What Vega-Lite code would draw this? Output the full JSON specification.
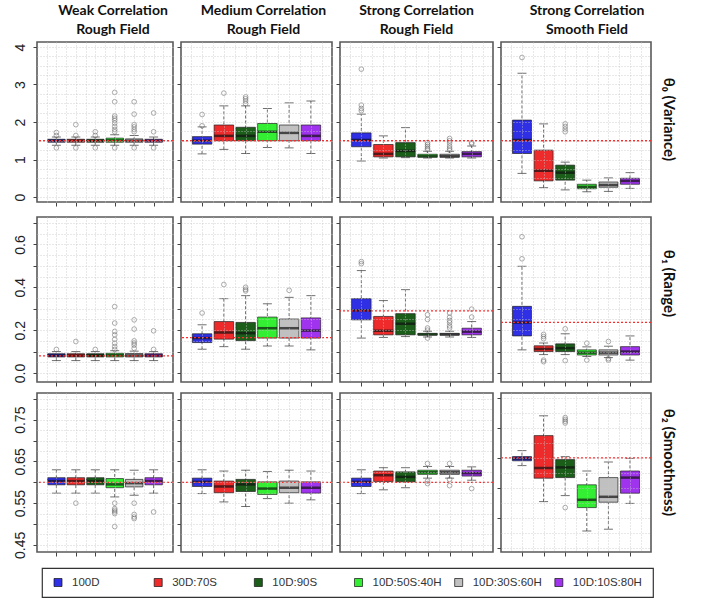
{
"$schema":"https://vega.github.io/schema/vega-lite/v6.json",
"padding":{"left":12,"top":3,"right":5,"bottom":2},
"config":{"font":"Liberation Sans","view":{"stroke":"#5a5a5a","strokeWidth":1.6},
"axis":{"domain":false,"grid":false,"labelOverlap":false,"labelFlush":false,"labelBound":false,"tickColor":"#444","tickSize":4,"tickWidth":1,"labelFont":"Liberation Sans","labelFontSize":14,"labelColor":"#222","gridColor":"#c4c4c4","gridDash":[1,2],"gridWidth":0.8},
"title":{"font":"Lato","fontSize":14,"fontWeight":"bold","color":"#111","lineHeight":19,"offset":5}},
"datasets":{
"groups":[{"k":0,"g":"100D"},{"k":1,"g":"30D:70S"},{"k":2,"g":"10D:90S"},{"k":3,"g":"10D:50S:40H"},{"k":4,"g":"10D:30S:60H"},{"k":5,"g":"10D:10S:80H"}],
"ref":[{"p":"1-1","v":1.5},{"p":"1-2","v":1.5},{"p":"1-3","v":1.5},{"p":"1-4","v":1.5},{"p":"2-1","v":0.08},{"p":"2-2","v":0.165},{"p":"2-3","v":0.29},{"p":"2-4","v":0.236},{"p":"3-1","v":0.6},{"p":"3-2","v":0.6},{"p":"3-3","v":0.6},{"p":"3-4","v":0.6}],
"boxes":[
{"p":"1-1","g":"100D","i":1,"lo":1.38,"q1":1.46,"m":1.5,"q3":1.54,"hi":1.6},
{"p":"1-1","g":"30D:70S","i":2,"lo":1.38,"q1":1.46,"m":1.5,"q3":1.54,"hi":1.6},
{"p":"1-1","g":"10D:90S","i":3,"lo":1.38,"q1":1.46,"m":1.5,"q3":1.54,"hi":1.6},
{"p":"1-1","g":"10D:50S:40H","i":4,"lo":1.38,"q1":1.46,"m":1.51,"q3":1.57,"hi":1.66},
{"p":"1-1","g":"10D:30S:60H","i":5,"lo":1.38,"q1":1.46,"m":1.5,"q3":1.55,"hi":1.64},
{"p":"1-1","g":"10D:10S:80H","i":6,"lo":1.38,"q1":1.46,"m":1.5,"q3":1.54,"hi":1.6},
{"p":"1-2","g":"100D","i":1,"lo":1.15,"q1":1.41,"m":1.5,"q3":1.61,"hi":1.87},
{"p":"1-2","g":"30D:70S","i":2,"lo":1.27,"q1":1.5,"m":1.63,"q3":1.92,"hi":2.43},
{"p":"1-2","g":"10D:90S","i":3,"lo":1.16,"q1":1.5,"m":1.63,"q3":1.86,"hi":2.43},
{"p":"1-2","g":"10D:50S:40H","i":4,"lo":1.32,"q1":1.5,"m":1.74,"q3":1.96,"hi":2.36},
{"p":"1-2","g":"10D:30S:60H","i":5,"lo":1.31,"q1":1.5,"m":1.71,"q3":1.92,"hi":2.51},
{"p":"1-2","g":"10D:10S:80H","i":6,"lo":1.16,"q1":1.5,"m":1.63,"q3":1.92,"hi":2.56},
{"p":"1-3","g":"100D","i":1,"lo":0.96,"q1":1.34,"m":1.52,"q3":1.71,"hi":2.21},
{"p":"1-3","g":"30D:70S","i":2,"lo":1.04,"q1":1.07,"m":1.15,"q3":1.4,"hi":1.63},
{"p":"1-3","g":"10D:90S","i":3,"lo":1.05,"q1":1.07,"m":1.23,"q3":1.45,"hi":1.85},
{"p":"1-3","g":"10D:50S:40H","i":4,"lo":1.04,"q1":1.06,"m":1.09,"q3":1.14,"hi":1.22},
{"p":"1-3","g":"10D:30S:60H","i":5,"lo":1.04,"q1":1.06,"m":1.09,"q3":1.14,"hi":1.22},
{"p":"1-3","g":"10D:10S:80H","i":6,"lo":1.04,"q1":1.07,"m":1.15,"q3":1.21,"hi":1.36},
{"p":"1-4","g":"100D","i":1,"lo":0.63,"q1":1.16,"m":1.52,"q3":2.05,"hi":3.3},
{"p":"1-4","g":"30D:70S","i":2,"lo":0.25,"q1":0.43,"m":0.7,"q3":1.25,"hi":1.95},
{"p":"1-4","g":"10D:90S","i":3,"lo":0.19,"q1":0.45,"m":0.65,"q3":0.85,"hi":0.93},
{"p":"1-4","g":"10D:50S:40H","i":4,"lo":0.14,"q1":0.22,"m":0.27,"q3":0.34,"hi":0.45},
{"p":"1-4","g":"10D:30S:60H","i":5,"lo":0.15,"q1":0.26,"m":0.32,"q3":0.4,"hi":0.51},
{"p":"1-4","g":"10D:10S:80H","i":6,"lo":0.23,"q1":0.34,"m":0.43,"q3":0.5,"hi":0.65},
{"p":"2-1","g":"100D","i":1,"lo":0.058,"q1":0.075,"m":0.082,"q3":0.09,"hi":0.1},
{"p":"2-1","g":"30D:70S","i":2,"lo":0.058,"q1":0.075,"m":0.082,"q3":0.09,"hi":0.1},
{"p":"2-1","g":"10D:90S","i":3,"lo":0.058,"q1":0.075,"m":0.082,"q3":0.09,"hi":0.1},
{"p":"2-1","g":"10D:50S:40H","i":4,"lo":0.058,"q1":0.075,"m":0.083,"q3":0.092,"hi":0.104},
{"p":"2-1","g":"10D:30S:60H","i":5,"lo":0.058,"q1":0.075,"m":0.082,"q3":0.091,"hi":0.102},
{"p":"2-1","g":"10D:10S:80H","i":6,"lo":0.058,"q1":0.075,"m":0.082,"q3":0.09,"hi":0.1},
{"p":"2-2","g":"100D","i":1,"lo":0.111,"q1":0.142,"m":0.163,"q3":0.183,"hi":0.225},
{"p":"2-2","g":"30D:70S","i":2,"lo":0.123,"q1":0.158,"m":0.189,"q3":0.24,"hi":0.347},
{"p":"2-2","g":"10D:90S","i":3,"lo":0.111,"q1":0.151,"m":0.186,"q3":0.236,"hi":0.361},
{"p":"2-2","g":"10D:50S:40H","i":4,"lo":0.126,"q1":0.163,"m":0.209,"q3":0.261,"hi":0.323},
{"p":"2-2","g":"10D:30S:60H","i":5,"lo":0.126,"q1":0.163,"m":0.209,"q3":0.252,"hi":0.353},
{"p":"2-2","g":"10D:10S:80H","i":6,"lo":0.108,"q1":0.163,"m":0.198,"q3":0.257,"hi":0.361},
{"p":"2-3","g":"100D","i":1,"lo":0.163,"q1":0.248,"m":0.292,"q3":0.347,"hi":0.478},
{"p":"2-3","g":"30D:70S","i":2,"lo":0.166,"q1":0.178,"m":0.197,"q3":0.264,"hi":0.338},
{"p":"2-3","g":"10D:90S","i":3,"lo":0.17,"q1":0.178,"m":0.23,"q3":0.277,"hi":0.389},
{"p":"2-3","g":"10D:50S:40H","i":4,"lo":0.168,"q1":0.177,"m":0.18,"q3":0.185,"hi":0.195},
{"p":"2-3","g":"10D:30S:60H","i":5,"lo":0.168,"q1":0.177,"m":0.18,"q3":0.185,"hi":0.195},
{"p":"2-3","g":"10D:10S:80H","i":6,"lo":0.166,"q1":0.178,"m":0.193,"q3":0.209,"hi":0.24},
{"p":"2-4","g":"100D","i":1,"lo":0.108,"q1":0.173,"m":0.236,"q3":0.311,"hi":0.498},
{"p":"2-4","g":"30D:70S","i":2,"lo":0.086,"q1":0.1,"m":0.112,"q3":0.127,"hi":0.14},
{"p":"2-4","g":"10D:90S","i":3,"lo":0.086,"q1":0.1,"m":0.116,"q3":0.136,"hi":0.183},
{"p":"2-4","g":"10D:50S:40H","i":4,"lo":0.077,"q1":0.084,"m":0.095,"q3":0.108,"hi":0.122},
{"p":"2-4","g":"10D:30S:60H","i":5,"lo":0.072,"q1":0.084,"m":0.095,"q3":0.108,"hi":0.125},
{"p":"2-4","g":"10D:10S:80H","i":6,"lo":0.06,"q1":0.084,"m":0.1,"q3":0.123,"hi":0.173},
{"p":"3-1","g":"100D","i":1,"lo":0.574,"q1":0.594,"m":0.603,"q3":0.611,"hi":0.63},
{"p":"3-1","g":"30D:70S","i":2,"lo":0.574,"q1":0.594,"m":0.603,"q3":0.611,"hi":0.63},
{"p":"3-1","g":"10D:90S","i":3,"lo":0.574,"q1":0.594,"m":0.603,"q3":0.611,"hi":0.63},
{"p":"3-1","g":"10D:50S:40H","i":4,"lo":0.565,"q1":0.587,"m":0.595,"q3":0.609,"hi":0.63},
{"p":"3-1","g":"10D:30S:60H","i":5,"lo":0.569,"q1":0.589,"m":0.598,"q3":0.607,"hi":0.629},
{"p":"3-1","g":"10D:10S:80H","i":6,"lo":0.574,"q1":0.594,"m":0.603,"q3":0.611,"hi":0.63},
{"p":"3-2","g":"100D","i":1,"lo":0.573,"q1":0.59,"m":0.601,"q3":0.61,"hi":0.63},
{"p":"3-2","g":"30D:70S","i":2,"lo":0.553,"q1":0.575,"m":0.59,"q3":0.603,"hi":0.627},
{"p":"3-2","g":"10D:90S","i":3,"lo":0.542,"q1":0.578,"m":0.595,"q3":0.607,"hi":0.629},
{"p":"3-2","g":"10D:50S:40H","i":4,"lo":0.561,"q1":0.571,"m":0.585,"q3":0.601,"hi":0.626},
{"p":"3-2","g":"10D:30S:60H","i":5,"lo":0.55,"q1":0.575,"m":0.587,"q3":0.603,"hi":0.629},
{"p":"3-2","g":"10D:10S:80H","i":6,"lo":0.558,"q1":0.574,"m":0.587,"q3":0.601,"hi":0.627},
{"p":"3-3","g":"100D","i":1,"lo":0.573,"q1":0.59,"m":0.601,"q3":0.61,"hi":0.63},
{"p":"3-3","g":"30D:70S","i":2,"lo":0.582,"q1":0.602,"m":0.617,"q3":0.627,"hi":0.635},
{"p":"3-3","g":"10D:90S","i":3,"lo":0.587,"q1":0.601,"m":0.613,"q3":0.625,"hi":0.635},
{"p":"3-3","g":"10D:50S:40H","i":4,"lo":0.61,"q1":0.619,"m":0.624,"q3":0.629,"hi":0.638},
{"p":"3-3","g":"10D:30S:60H","i":5,"lo":0.61,"q1":0.619,"m":0.624,"q3":0.629,"hi":0.638},
{"p":"3-3","g":"10D:10S:80H","i":6,"lo":0.605,"q1":0.615,"m":0.622,"q3":0.629,"hi":0.637},
{"p":"3-4","g":"100D","i":1,"lo":0.587,"q1":0.595,"m":0.599,"q3":0.602,"hi":0.612},
{"p":"3-4","g":"30D:70S","i":2,"lo":0.527,"q1":0.566,"m":0.583,"q3":0.637,"hi":0.67},
{"p":"3-4","g":"10D:90S","i":3,"lo":0.537,"q1":0.567,"m":0.584,"q3":0.597,"hi":0.602},
{"p":"3-4","g":"10D:50S:40H","i":4,"lo":0.478,"q1":0.517,"m":0.53,"q3":0.555,"hi":0.578},
{"p":"3-4","g":"10D:30S:60H","i":5,"lo":0.481,"q1":0.526,"m":0.535,"q3":0.567,"hi":0.593},
{"p":"3-4","g":"10D:10S:80H","i":6,"lo":0.524,"q1":0.541,"m":0.567,"q3":0.578,"hi":0.599}
],
"out":[
{"p":"1-1","i":1,"v":1.72},{"p":"1-1","i":1,"v":1.64},{"p":"1-1","i":1,"v":1.31},
{"p":"1-1","i":2,"v":1.93},{"p":"1-1","i":2,"v":1.64},{"p":"1-1","i":2,"v":1.31},
{"p":"1-1","i":3,"v":1.74},{"p":"1-1","i":3,"v":1.64},{"p":"1-1","i":3,"v":1.31},
{"p":"1-1","i":4,"v":2.79},{"p":"1-1","i":4,"v":2.54},{"p":"1-1","i":4,"v":2.16},{"p":"1-1","i":4,"v":2.1},{"p":"1-1","i":4,"v":2.04},{"p":"1-1","i":4,"v":1.97},{"p":"1-1","i":4,"v":1.88},{"p":"1-1","i":4,"v":1.8},{"p":"1-1","i":4,"v":1.74},{"p":"1-1","i":4,"v":1.31},
{"p":"1-1","i":5,"v":2.54},{"p":"1-1","i":5,"v":2.21},{"p":"1-1","i":5,"v":1.93},{"p":"1-1","i":5,"v":1.87},{"p":"1-1","i":5,"v":1.8},{"p":"1-1","i":5,"v":1.74},{"p":"1-1","i":5,"v":1.31},
{"p":"1-1","i":6,"v":2.24},{"p":"1-1","i":6,"v":1.74},{"p":"1-1","i":6,"v":1.31},
{"p":"1-2","i":1,"v":2.2},{"p":"1-2","i":1,"v":1.9},{"p":"1-2","i":2,"v":2.77},
{"p":"1-2","i":3,"v":2.67},{"p":"1-2","i":3,"v":2.62},{"p":"1-2","i":3,"v":2.56},{"p":"1-2","i":3,"v":2.49},
{"p":"1-3","i":1,"v":3.41},{"p":"1-3","i":1,"v":2.45},{"p":"1-3","i":1,"v":2.36},{"p":"1-3","i":1,"v":2.3},
{"p":"1-3","i":4,"v":1.45},{"p":"1-3","i":4,"v":1.4},{"p":"1-3","i":4,"v":1.35},{"p":"1-3","i":4,"v":1.3},{"p":"1-3","i":4,"v":1.26},
{"p":"1-3","i":5,"v":1.56},{"p":"1-3","i":5,"v":1.5},{"p":"1-3","i":5,"v":1.44},{"p":"1-3","i":5,"v":1.36},{"p":"1-3","i":5,"v":1.3},{"p":"1-3","i":5,"v":1.25},
{"p":"1-3","i":6,"v":1.45},{"p":"1-3","i":6,"v":1.42},
{"p":"1-4","i":1,"v":3.72},{"p":"1-4","i":3,"v":1.95},{"p":"1-4","i":3,"v":1.88},{"p":"1-4","i":3,"v":1.81},{"p":"1-4","i":3,"v":1.74},
{"p":"2-1","i":1,"v":0.11},{"p":"2-1","i":2,"v":0.147},{"p":"2-1","i":3,"v":0.11},
{"p":"2-1","i":4,"v":0.31},{"p":"2-1","i":4,"v":0.233},{"p":"2-1","i":4,"v":0.194},{"p":"2-1","i":4,"v":0.178},{"p":"2-1","i":4,"v":0.157},{"p":"2-1","i":4,"v":0.139},{"p":"2-1","i":4,"v":0.123},{"p":"2-1","i":4,"v":0.11},
{"p":"2-1","i":5,"v":0.248},{"p":"2-1","i":5,"v":0.205},{"p":"2-1","i":5,"v":0.15},{"p":"2-1","i":5,"v":0.14},{"p":"2-1","i":5,"v":0.13},{"p":"2-1","i":5,"v":0.115},
{"p":"2-1","i":6,"v":0.197},{"p":"2-1","i":6,"v":0.11},
{"p":"2-2","i":1,"v":0.28},{"p":"2-2","i":2,"v":0.413},{"p":"2-2","i":3,"v":0.4},{"p":"2-2","i":3,"v":0.39},{"p":"2-2","i":3,"v":0.383},{"p":"2-2","i":5,"v":0.386},
{"p":"2-3","i":1,"v":0.52},{"p":"2-3","i":1,"v":0.51},
{"p":"2-3","i":4,"v":0.272},{"p":"2-3","i":4,"v":0.25},{"p":"2-3","i":4,"v":0.21},{"p":"2-3","i":4,"v":0.2},{"p":"2-3","i":4,"v":0.163},
{"p":"2-3","i":5,"v":0.28},{"p":"2-3","i":5,"v":0.26},{"p":"2-3","i":5,"v":0.245},{"p":"2-3","i":5,"v":0.235},{"p":"2-3","i":5,"v":0.22},{"p":"2-3","i":5,"v":0.21},
{"p":"2-3","i":6,"v":0.298},{"p":"2-3","i":6,"v":0.261},
{"p":"2-4","i":1,"v":0.636},{"p":"2-4","i":1,"v":0.533},
{"p":"2-4","i":2,"v":0.18},{"p":"2-4","i":2,"v":0.17},{"p":"2-4","i":2,"v":0.16},{"p":"2-4","i":2,"v":0.06},{"p":"2-4","i":2,"v":0.053},
{"p":"2-4","i":3,"v":0.206},{"p":"2-4","i":3,"v":0.058},
{"p":"2-4","i":4,"v":0.139},{"p":"2-4","i":4,"v":0.06},
{"p":"2-4","i":5,"v":0.147},{"p":"2-4","i":5,"v":0.067},{"p":"2-4","i":5,"v":0.06},
{"p":"3-1","i":2,"v":0.55},
{"p":"3-1","i":4,"v":0.55},{"p":"3-1","i":4,"v":0.537},{"p":"3-1","i":4,"v":0.533},{"p":"3-1","i":4,"v":0.529},{"p":"3-1","i":4,"v":0.525},{"p":"3-1","i":4,"v":0.494},
{"p":"3-1","i":5,"v":0.55},{"p":"3-1","i":5,"v":0.523},{"p":"3-1","i":5,"v":0.517},{"p":"3-1","i":5,"v":0.513},
{"p":"3-1","i":6,"v":0.529},
{"p":"3-3","i":4,"v":0.645},{"p":"3-3","i":4,"v":0.603},{"p":"3-3","i":4,"v":0.597},
{"p":"3-3","i":5,"v":0.645},{"p":"3-3","i":5,"v":0.607},{"p":"3-3","i":5,"v":0.592},
{"p":"3-3","i":6,"v":0.585},
{"p":"3-4","i":3,"v":0.667},{"p":"3-4","i":3,"v":0.664},{"p":"3-4","i":3,"v":0.661},{"p":"3-4","i":3,"v":0.658},{"p":"3-4","i":3,"v":0.517}
]
},
"bounds":"full",
"spacing":8,
"vconcat":[
{"hconcat":[
{"width":136,"height":160,"title":{"text":["Weak Correlation","Rough Field"],"dx":8},
"layer":[
{"data":{"name":"boxes"},"transform":[{"filter":"datum.p=='1-1'"}],"mark":{"type":"rule","stroke":"#555","strokeDash":[3,2],"strokeWidth":0.9},
"encoding":{"x":{"field":"i","type":"quantitative","scale":{"domain":[0.26,6.74],"nice":false,"zero":false},"axis":{"orient":"bottom","values":[0.5,1,1.5,2,2.5,3,3.5,4,4.5,5,5.5,6,6.5],"grid":true,"ticks":false,"labels":false,"zindex":1,"title":null}},
"y":{"field":"lo","type":"quantitative","scale":{"domain":[-0.133,4.133],"nice":false,"zero":false},"axis":{"orient":"left","values":[0,0.25,0.5,0.75,1,1.25,1.5,1.75,2,2.25,2.5,2.75,3,3.25,3.5,3.75,4],"grid":true,"ticks":false,"labels":false,"zindex":1,"title":null}},"y2":{"field":"hi"}}},
{"data":{"name":"boxes"},"transform":[{"filter":"datum.p=='1-1'"}],"mark":{"type":"bar","size":17.5,"stroke":"#222","strokeWidth":0.7},
"encoding":{"x":{"field":"i","type":"quantitative","axis":{"orient":"bottom","values":[1,2,3,4,5,6],"labels":false,"title":null}},
"y":{"field":"q1","type":"quantitative","axis":{"orient":"left","values":[0,1,2,3,4],"format":"d","labelAngle":-90,"labelAlign":"center","labelBaseline":"bottom","labelPadding":6,"title":null}},"y2":{"field":"q3"},
"color":{"field":"g","type":"nominal","scale":{"domain":["100D","30D:70S","10D:90S","10D:50S:40H","10D:30S:60H","10D:10S:80H"],"range":["#2f2fe6","#ee2a2a","#1a5e1a","#33ee33","#c0c0c0","#a033ee"]},"legend":null}}},
{"data":{"name":"boxes"},"transform":[{"filter":"datum.p=='1-1'"}],"mark":{"type":"tick","orient":"horizontal","size":9,"thickness":1,"color":"#333"},"encoding":{"x":{"field":"i","type":"quantitative","axis":null},"y":{"field":"lo","type":"quantitative","axis":null}}},
{"data":{"name":"boxes"},"transform":[{"filter":"datum.p=='1-1'"}],"mark":{"type":"tick","orient":"horizontal","size":9,"thickness":1,"color":"#333"},"encoding":{"x":{"field":"i","type":"quantitative","axis":null},"y":{"field":"hi","type":"quantitative","axis":null}}},
{"data":{"name":"boxes"},"transform":[{"filter":"datum.p=='1-1'"}],"mark":{"type":"tick","orient":"horizontal","size":17.5,"thickness":2.5,"color":"#111"},"encoding":{"x":{"field":"i","type":"quantitative","axis":null},"y":{"field":"m","type":"quantitative","axis":null}}},
{"data":{"name":"out"},"transform":[{"filter":"datum.p=='1-1'"}],"mark":{"type":"point","shape":"circle","filled":false,"size":22,"stroke":"#666","strokeWidth":0.8},"encoding":{"x":{"field":"i","type":"quantitative","axis":null},"y":{"field":"v","type":"quantitative","axis":null}}},
{"data":{"name":"ref"},"transform":[{"filter":"datum.p=='1-1'"}],"mark":{"type":"rule","stroke":"#ff2a2a","strokeDash":[2,2],"strokeWidth":1.3},"encoding":{"y":{"field":"v","type":"quantitative","axis":null}}}
],"resolve":{"axis":{"x":"independent","y":"independent"}}},
{"width":151,"height":160,"title":{"text":["Medium Correlation","Rough Field"],"dx":7},
"layer":[
{"data":{"name":"boxes"},"transform":[{"filter":"datum.p=='1-2'"}],"mark":{"type":"rule","stroke":"#555","strokeDash":[3,2],"strokeWidth":0.9},
"encoding":{"x":{"field":"i","type":"quantitative","scale":{"domain":[0.26,6.74],"nice":false,"zero":false},"axis":{"orient":"bottom","values":[0.5,1,1.5,2,2.5,3,3.5,4,4.5,5,5.5,6,6.5],"grid":true,"ticks":false,"labels":false,"zindex":1,"title":null}},
"y":{"field":"lo","type":"quantitative","scale":{"domain":[-0.133,4.133],"nice":false,"zero":false},"axis":{"orient":"left","values":[0,0.25,0.5,0.75,1,1.25,1.5,1.75,2,2.25,2.5,2.75,3,3.25,3.5,3.75,4],"grid":true,"ticks":false,"labels":false,"zindex":1,"title":null}},"y2":{"field":"hi"}}},
{"data":{"name":"boxes"},"transform":[{"filter":"datum.p=='1-2'"}],"mark":{"type":"bar","size":19.5,"stroke":"#222","strokeWidth":0.7},
"encoding":{"x":{"field":"i","type":"quantitative","axis":{"orient":"bottom","values":[1,2,3,4,5,6],"labels":false,"title":null}},
"y":{"field":"q1","type":"quantitative","axis":{"orient":"left","values":[0,1,2,3,4],"labels":false,"title":null}},"y2":{"field":"q3"},
"color":{"field":"g","type":"nominal","scale":{"domain":["100D","30D:70S","10D:90S","10D:50S:40H","10D:30S:60H","10D:10S:80H"],"range":["#2f2fe6","#ee2a2a","#1a5e1a","#33ee33","#c0c0c0","#a033ee"]},"legend":null}}},
{"data":{"name":"boxes"},"transform":[{"filter":"datum.p=='1-2'"}],"mark":{"type":"tick","orient":"horizontal","size":9,"thickness":1,"color":"#333"},"encoding":{"x":{"field":"i","type":"quantitative","axis":null},"y":{"field":"lo","type":"quantitative","axis":null}}},
{"data":{"name":"boxes"},"transform":[{"filter":"datum.p=='1-2'"}],"mark":{"type":"tick","orient":"horizontal","size":9,"thickness":1,"color":"#333"},"encoding":{"x":{"field":"i","type":"quantitative","axis":null},"y":{"field":"hi","type":"quantitative","axis":null}}},
{"data":{"name":"boxes"},"transform":[{"filter":"datum.p=='1-2'"}],"mark":{"type":"tick","orient":"horizontal","size":19.5,"thickness":2.5,"color":"#111"},"encoding":{"x":{"field":"i","type":"quantitative","axis":null},"y":{"field":"m","type":"quantitative","axis":null}}},
{"data":{"name":"out"},"transform":[{"filter":"datum.p=='1-2'"}],"mark":{"type":"point","shape":"circle","filled":false,"size":22,"stroke":"#666","strokeWidth":0.8},"encoding":{"x":{"field":"i","type":"quantitative","axis":null},"y":{"field":"v","type":"quantitative","axis":null}}},
{"data":{"name":"ref"},"transform":[{"filter":"datum.p=='1-2'"}],"mark":{"type":"rule","stroke":"#ff2a2a","strokeDash":[2,2],"strokeWidth":1.3},"encoding":{"y":{"field":"v","type":"quantitative","axis":null}}}
],"resolve":{"axis":{"x":"independent","y":"independent"}}},
{"width":153,"height":160,"title":{"text":["Strong Correlation","Rough Field"],"dx":0},
"layer":[
{"data":{"name":"boxes"},"transform":[{"filter":"datum.p=='1-3'"}],"mark":{"type":"rule","stroke":"#555","strokeDash":[3,2],"strokeWidth":0.9},
"encoding":{"x":{"field":"i","type":"quantitative","scale":{"domain":[0.26,6.74],"nice":false,"zero":false},"axis":{"orient":"bottom","values":[0.5,1,1.5,2,2.5,3,3.5,4,4.5,5,5.5,6,6.5],"grid":true,"ticks":false,"labels":false,"zindex":1,"title":null}},
"y":{"field":"lo","type":"quantitative","scale":{"domain":[-0.133,4.133],"nice":false,"zero":false},"axis":{"orient":"left","values":[0,0.25,0.5,0.75,1,1.25,1.5,1.75,2,2.25,2.5,2.75,3,3.25,3.5,3.75,4],"grid":true,"ticks":false,"labels":false,"zindex":1,"title":null}},"y2":{"field":"hi"}}},
{"data":{"name":"boxes"},"transform":[{"filter":"datum.p=='1-3'"}],"mark":{"type":"bar","size":19.5,"stroke":"#222","strokeWidth":0.7},
"encoding":{"x":{"field":"i","type":"quantitative","axis":{"orient":"bottom","values":[1,2,3,4,5,6],"labels":false,"title":null}},
"y":{"field":"q1","type":"quantitative","axis":{"orient":"left","values":[0,1,2,3,4],"labels":false,"title":null}},"y2":{"field":"q3"},
"color":{"field":"g","type":"nominal","scale":{"domain":["100D","30D:70S","10D:90S","10D:50S:40H","10D:30S:60H","10D:10S:80H"],"range":["#2f2fe6","#ee2a2a","#1a5e1a","#33ee33","#c0c0c0","#a033ee"]},"legend":null}}},
{"data":{"name":"boxes"},"transform":[{"filter":"datum.p=='1-3'"}],"mark":{"type":"tick","orient":"horizontal","size":9,"thickness":1,"color":"#333"},"encoding":{"x":{"field":"i","type":"quantitative","axis":null},"y":{"field":"lo","type":"quantitative","axis":null}}},
{"data":{"name":"boxes"},"transform":[{"filter":"datum.p=='1-3'"}],"mark":{"type":"tick","orient":"horizontal","size":9,"thickness":1,"color":"#333"},"encoding":{"x":{"field":"i","type":"quantitative","axis":null},"y":{"field":"hi","type":"quantitative","axis":null}}},
{"data":{"name":"boxes"},"transform":[{"filter":"datum.p=='1-3'"}],"mark":{"type":"tick","orient":"horizontal","size":19.5,"thickness":2.5,"color":"#111"},"encoding":{"x":{"field":"i","type":"quantitative","axis":null},"y":{"field":"m","type":"quantitative","axis":null}}},
{"data":{"name":"out"},"transform":[{"filter":"datum.p=='1-3'"}],"mark":{"type":"point","shape":"circle","filled":false,"size":22,"stroke":"#666","strokeWidth":0.8},"encoding":{"x":{"field":"i","type":"quantitative","axis":null},"y":{"field":"v","type":"quantitative","axis":null}}},
{"data":{"name":"ref"},"transform":[{"filter":"datum.p=='1-3'"}],"mark":{"type":"rule","stroke":"#ff2a2a","strokeDash":[2,2],"strokeWidth":1.3},"encoding":{"y":{"field":"v","type":"quantitative","axis":null}}}
],"resolve":{"axis":{"x":"independent","y":"independent"}}},
{"width":150,"height":160,"title":{"text":["Strong Correlation","Smooth Field"],"dx":11},
"layer":[
{"data":{"name":"boxes"},"transform":[{"filter":"datum.p=='1-4'"}],"mark":{"type":"rule","stroke":"#555","strokeDash":[3,2],"strokeWidth":0.9},
"encoding":{"x":{"field":"i","type":"quantitative","scale":{"domain":[0.26,6.74],"nice":false,"zero":false},"axis":{"orient":"bottom","values":[0.5,1,1.5,2,2.5,3,3.5,4,4.5,5,5.5,6,6.5],"grid":true,"ticks":false,"labels":false,"zindex":1,"title":null}},
"y":{"field":"lo","type":"quantitative","scale":{"domain":[-0.133,4.133],"nice":false,"zero":false},"axis":{"orient":"left","values":[0,0.25,0.5,0.75,1,1.25,1.5,1.75,2,2.25,2.5,2.75,3,3.25,3.5,3.75,4],"grid":true,"ticks":false,"labels":false,"zindex":1,"title":null}},"y2":{"field":"hi"}}},
{"data":{"name":"boxes"},"transform":[{"filter":"datum.p=='1-4'"}],"mark":{"type":"bar","size":19,"stroke":"#222","strokeWidth":0.7},
"encoding":{"x":{"field":"i","type":"quantitative","axis":{"orient":"bottom","values":[1,2,3,4,5,6],"labels":false,"title":null}},
"y":{"field":"q1","type":"quantitative","axis":{"orient":"left","values":[0,1,2,3,4],"labels":false,"title":null}},"y2":{"field":"q3"},
"color":{"field":"g","type":"nominal","scale":{"domain":["100D","30D:70S","10D:90S","10D:50S:40H","10D:30S:60H","10D:10S:80H"],"range":["#2f2fe6","#ee2a2a","#1a5e1a","#33ee33","#c0c0c0","#a033ee"]},"legend":null}}},
{"data":{"name":"boxes"},"transform":[{"filter":"datum.p=='1-4'"}],"mark":{"type":"tick","orient":"horizontal","size":9,"thickness":1,"color":"#333"},"encoding":{"x":{"field":"i","type":"quantitative","axis":null},"y":{"field":"lo","type":"quantitative","axis":null}}},
{"data":{"name":"boxes"},"transform":[{"filter":"datum.p=='1-4'"}],"mark":{"type":"tick","orient":"horizontal","size":9,"thickness":1,"color":"#333"},"encoding":{"x":{"field":"i","type":"quantitative","axis":null},"y":{"field":"hi","type":"quantitative","axis":null}}},
{"data":{"name":"boxes"},"transform":[{"filter":"datum.p=='1-4'"}],"mark":{"type":"tick","orient":"horizontal","size":19,"thickness":2.5,"color":"#111"},"encoding":{"x":{"field":"i","type":"quantitative","axis":null},"y":{"field":"m","type":"quantitative","axis":null}}},
{"data":{"name":"out"},"transform":[{"filter":"datum.p=='1-4'"}],"mark":{"type":"point","shape":"circle","filled":false,"size":22,"stroke":"#666","strokeWidth":0.8},"encoding":{"x":{"field":"i","type":"quantitative","axis":null},"y":{"field":"v","type":"quantitative","axis":null}}},
{"data":{"name":"ref"},"transform":[{"filter":"datum.p=='1-4'"}],"mark":{"type":"rule","stroke":"#ff2a2a","strokeDash":[2,2],"strokeWidth":1.3},"encoding":{"y":{"field":"v","type":"quantitative","axis":{"orient":"right","ticks":false,"labels":false,"grid":false,"title":"θ₀ (Variance)","titleAngle":90,"titleFont":"Lato","titleFontSize":15,"titleFontWeight":"bold","titleColor":"#111","titleX":17,"titleY":77,"titleAlign":"center","titleBaseline":"middle"}}}}
],"resolve":{"axis":{"x":"independent","y":"independent"}}}
],"spacing":8,"bounds":"flush"},
{"vconcat":[
{"hconcat":[
{"width":136,"height":165,
"layer":[
{"data":{"name":"boxes"},"transform":[{"filter":"datum.p=='2-1'"}],"mark":{"type":"rule","stroke":"#555","strokeDash":[3,2],"strokeWidth":0.9},
"encoding":{"x":{"field":"i","type":"quantitative","scale":{"domain":[0.26,6.74],"nice":false,"zero":false},"axis":{"orient":"bottom","values":[0.5,1,1.5,2,2.5,3,3.5,4,4.5,5,5.5,6,6.5],"grid":true,"ticks":false,"labels":false,"zindex":1,"title":null}},
"y":{"field":"lo","type":"quantitative","scale":{"domain":[-0.042,0.728],"nice":false,"zero":false},"axis":{"orient":"left","values":[0,0.05,0.1,0.15,0.2,0.25,0.3,0.35,0.4,0.45,0.5,0.55,0.6,0.65,0.7],"grid":true,"ticks":false,"labels":false,"zindex":1,"title":null}},"y2":{"field":"hi"}}},
{"data":{"name":"boxes"},"transform":[{"filter":"datum.p=='2-1'"}],"mark":{"type":"bar","size":17.5,"stroke":"#222","strokeWidth":0.7},
"encoding":{"x":{"field":"i","type":"quantitative","axis":{"orient":"bottom","values":[1,2,3,4,5,6],"labels":false,"title":null}},
"y":{"field":"q1","type":"quantitative","axis":{"orient":"left","values":[0,0.1,0.2,0.3,0.4,0.5,0.6,0.7],"labelExpr":"round(datum.value*10)%2==0 ? format(datum.value,'.1f') : ''","labelAngle":-90,"labelAlign":"center","labelBaseline":"bottom","labelPadding":6,"title":null}},"y2":{"field":"q3"},
"color":{"field":"g","type":"nominal","scale":{"domain":["100D","30D:70S","10D:90S","10D:50S:40H","10D:30S:60H","10D:10S:80H"],"range":["#2f2fe6","#ee2a2a","#1a5e1a","#33ee33","#c0c0c0","#a033ee"]},"legend":null}}},
{"data":{"name":"boxes"},"transform":[{"filter":"datum.p=='2-1'"}],"mark":{"type":"tick","orient":"horizontal","size":9,"thickness":1,"color":"#333"},"encoding":{"x":{"field":"i","type":"quantitative","axis":null},"y":{"field":"lo","type":"quantitative","axis":null}}},
{"data":{"name":"boxes"},"transform":[{"filter":"datum.p=='2-1'"}],"mark":{"type":"tick","orient":"horizontal","size":9,"thickness":1,"color":"#333"},"encoding":{"x":{"field":"i","type":"quantitative","axis":null},"y":{"field":"hi","type":"quantitative","axis":null}}},
{"data":{"name":"boxes"},"transform":[{"filter":"datum.p=='2-1'"}],"mark":{"type":"tick","orient":"horizontal","size":17.5,"thickness":2.5,"color":"#111"},"encoding":{"x":{"field":"i","type":"quantitative","axis":null},"y":{"field":"m","type":"quantitative","axis":null}}},
{"data":{"name":"out"},"transform":[{"filter":"datum.p=='2-1'"}],"mark":{"type":"point","shape":"circle","filled":false,"size":22,"stroke":"#666","strokeWidth":0.8},"encoding":{"x":{"field":"i","type":"quantitative","axis":null},"y":{"field":"v","type":"quantitative","axis":null}}},
{"data":{"name":"ref"},"transform":[{"filter":"datum.p=='2-1'"}],"mark":{"type":"rule","stroke":"#ff2a2a","strokeDash":[2,2],"strokeWidth":1.3},"encoding":{"y":{"field":"v","type":"quantitative","axis":null}}}
],"resolve":{"axis":{"x":"independent","y":"independent"}}},
{"width":151,"height":165,
"layer":[
{"data":{"name":"boxes"},"transform":[{"filter":"datum.p=='2-2'"}],"mark":{"type":"rule","stroke":"#555","strokeDash":[3,2],"strokeWidth":0.9},
"encoding":{"x":{"field":"i","type":"quantitative","scale":{"domain":[0.26,6.74],"nice":false,"zero":false},"axis":{"orient":"bottom","values":[0.5,1,1.5,2,2.5,3,3.5,4,4.5,5,5.5,6,6.5],"grid":true,"ticks":false,"labels":false,"zindex":1,"title":null}},
"y":{"field":"lo","type":"quantitative","scale":{"domain":[-0.042,0.728],"nice":false,"zero":false},"axis":{"orient":"left","values":[0,0.05,0.1,0.15,0.2,0.25,0.3,0.35,0.4,0.45,0.5,0.55,0.6,0.65,0.7],"grid":true,"ticks":false,"labels":false,"zindex":1,"title":null}},"y2":{"field":"hi"}}},
{"data":{"name":"boxes"},"transform":[{"filter":"datum.p=='2-2'"}],"mark":{"type":"bar","size":19.5,"stroke":"#222","strokeWidth":0.7},
"encoding":{"x":{"field":"i","type":"quantitative","axis":{"orient":"bottom","values":[1,2,3,4,5,6],"labels":false,"title":null}},
"y":{"field":"q1","type":"quantitative","axis":{"orient":"left","values":[0,0.1,0.2,0.3,0.4,0.5,0.6,0.7],"labels":false,"title":null}},"y2":{"field":"q3"},
"color":{"field":"g","type":"nominal","scale":{"domain":["100D","30D:70S","10D:90S","10D:50S:40H","10D:30S:60H","10D:10S:80H"],"range":["#2f2fe6","#ee2a2a","#1a5e1a","#33ee33","#c0c0c0","#a033ee"]},"legend":null}}},
{"data":{"name":"boxes"},"transform":[{"filter":"datum.p=='2-2'"}],"mark":{"type":"tick","orient":"horizontal","size":9,"thickness":1,"color":"#333"},"encoding":{"x":{"field":"i","type":"quantitative","axis":null},"y":{"field":"lo","type":"quantitative","axis":null}}},
{"data":{"name":"boxes"},"transform":[{"filter":"datum.p=='2-2'"}],"mark":{"type":"tick","orient":"horizontal","size":9,"thickness":1,"color":"#333"},"encoding":{"x":{"field":"i","type":"quantitative","axis":null},"y":{"field":"hi","type":"quantitative","axis":null}}},
{"data":{"name":"boxes"},"transform":[{"filter":"datum.p=='2-2'"}],"mark":{"type":"tick","orient":"horizontal","size":19.5,"thickness":2.5,"color":"#111"},"encoding":{"x":{"field":"i","type":"quantitative","axis":null},"y":{"field":"m","type":"quantitative","axis":null}}},
{"data":{"name":"out"},"transform":[{"filter":"datum.p=='2-2'"}],"mark":{"type":"point","shape":"circle","filled":false,"size":22,"stroke":"#666","strokeWidth":0.8},"encoding":{"x":{"field":"i","type":"quantitative","axis":null},"y":{"field":"v","type":"quantitative","axis":null}}},
{"data":{"name":"ref"},"transform":[{"filter":"datum.p=='2-2'"}],"mark":{"type":"rule","stroke":"#ff2a2a","strokeDash":[2,2],"strokeWidth":1.3},"encoding":{"y":{"field":"v","type":"quantitative","axis":null}}}
],"resolve":{"axis":{"x":"independent","y":"independent"}}},
{"width":153,"height":165,
"layer":[
{"data":{"name":"boxes"},"transform":[{"filter":"datum.p=='2-3'"}],"mark":{"type":"rule","stroke":"#555","strokeDash":[3,2],"strokeWidth":0.9},
"encoding":{"x":{"field":"i","type":"quantitative","scale":{"domain":[0.26,6.74],"nice":false,"zero":false},"axis":{"orient":"bottom","values":[0.5,1,1.5,2,2.5,3,3.5,4,4.5,5,5.5,6,6.5],"grid":true,"ticks":false,"labels":false,"zindex":1,"title":null}},
"y":{"field":"lo","type":"quantitative","scale":{"domain":[-0.042,0.728],"nice":false,"zero":false},"axis":{"orient":"left","values":[0,0.05,0.1,0.15,0.2,0.25,0.3,0.35,0.4,0.45,0.5,0.55,0.6,0.65,0.7],"grid":true,"ticks":false,"labels":false,"zindex":1,"title":null}},"y2":{"field":"hi"}}},
{"data":{"name":"boxes"},"transform":[{"filter":"datum.p=='2-3'"}],"mark":{"type":"bar","size":19.5,"stroke":"#222","strokeWidth":0.7},
"encoding":{"x":{"field":"i","type":"quantitative","axis":{"orient":"bottom","values":[1,2,3,4,5,6],"labels":false,"title":null}},
"y":{"field":"q1","type":"quantitative","axis":{"orient":"left","values":[0,0.1,0.2,0.3,0.4,0.5,0.6,0.7],"labels":false,"title":null}},"y2":{"field":"q3"},
"color":{"field":"g","type":"nominal","scale":{"domain":["100D","30D:70S","10D:90S","10D:50S:40H","10D:30S:60H","10D:10S:80H"],"range":["#2f2fe6","#ee2a2a","#1a5e1a","#33ee33","#c0c0c0","#a033ee"]},"legend":null}}},
{"data":{"name":"boxes"},"transform":[{"filter":"datum.p=='2-3'"}],"mark":{"type":"tick","orient":"horizontal","size":9,"thickness":1,"color":"#333"},"encoding":{"x":{"field":"i","type":"quantitative","axis":null},"y":{"field":"lo","type":"quantitative","axis":null}}},
{"data":{"name":"boxes"},"transform":[{"filter":"datum.p=='2-3'"}],"mark":{"type":"tick","orient":"horizontal","size":9,"thickness":1,"color":"#333"},"encoding":{"x":{"field":"i","type":"quantitative","axis":null},"y":{"field":"hi","type":"quantitative","axis":null}}},
{"data":{"name":"boxes"},"transform":[{"filter":"datum.p=='2-3'"}],"mark":{"type":"tick","orient":"horizontal","size":19.5,"thickness":2.5,"color":"#111"},"encoding":{"x":{"field":"i","type":"quantitative","axis":null},"y":{"field":"m","type":"quantitative","axis":null}}},
{"data":{"name":"out"},"transform":[{"filter":"datum.p=='2-3'"}],"mark":{"type":"point","shape":"circle","filled":false,"size":22,"stroke":"#666","strokeWidth":0.8},"encoding":{"x":{"field":"i","type":"quantitative","axis":null},"y":{"field":"v","type":"quantitative","axis":null}}},
{"data":{"name":"ref"},"transform":[{"filter":"datum.p=='2-3'"}],"mark":{"type":"rule","stroke":"#ff2a2a","strokeDash":[2,2],"strokeWidth":1.3},"encoding":{"y":{"field":"v","type":"quantitative","axis":null}}}
],"resolve":{"axis":{"x":"independent","y":"independent"}}},
{"width":150,"height":165,
"layer":[
{"data":{"name":"boxes"},"transform":[{"filter":"datum.p=='2-4'"}],"mark":{"type":"rule","stroke":"#555","strokeDash":[3,2],"strokeWidth":0.9},
"encoding":{"x":{"field":"i","type":"quantitative","scale":{"domain":[0.26,6.74],"nice":false,"zero":false},"axis":{"orient":"bottom","values":[0.5,1,1.5,2,2.5,3,3.5,4,4.5,5,5.5,6,6.5],"grid":true,"ticks":false,"labels":false,"zindex":1,"title":null}},
"y":{"field":"lo","type":"quantitative","scale":{"domain":[-0.042,0.728],"nice":false,"zero":false},"axis":{"orient":"left","values":[0,0.05,0.1,0.15,0.2,0.25,0.3,0.35,0.4,0.45,0.5,0.55,0.6,0.65,0.7],"grid":true,"ticks":false,"labels":false,"zindex":1,"title":null}},"y2":{"field":"hi"}}},
{"data":{"name":"boxes"},"transform":[{"filter":"datum.p=='2-4'"}],"mark":{"type":"bar","size":19,"stroke":"#222","strokeWidth":0.7},
"encoding":{"x":{"field":"i","type":"quantitative","axis":{"orient":"bottom","values":[1,2,3,4,5,6],"labels":false,"title":null}},
"y":{"field":"q1","type":"quantitative","axis":{"orient":"left","values":[0,0.1,0.2,0.3,0.4,0.5,0.6,0.7],"labels":false,"title":null}},"y2":{"field":"q3"},
"color":{"field":"g","type":"nominal","scale":{"domain":["100D","30D:70S","10D:90S","10D:50S:40H","10D:30S:60H","10D:10S:80H"],"range":["#2f2fe6","#ee2a2a","#1a5e1a","#33ee33","#c0c0c0","#a033ee"]},"legend":null}}},
{"data":{"name":"boxes"},"transform":[{"filter":"datum.p=='2-4'"}],"mark":{"type":"tick","orient":"horizontal","size":9,"thickness":1,"color":"#333"},"encoding":{"x":{"field":"i","type":"quantitative","axis":null},"y":{"field":"lo","type":"quantitative","axis":null}}},
{"data":{"name":"boxes"},"transform":[{"filter":"datum.p=='2-4'"}],"mark":{"type":"tick","orient":"horizontal","size":9,"thickness":1,"color":"#333"},"encoding":{"x":{"field":"i","type":"quantitative","axis":null},"y":{"field":"hi","type":"quantitative","axis":null}}},
{"data":{"name":"boxes"},"transform":[{"filter":"datum.p=='2-4'"}],"mark":{"type":"tick","orient":"horizontal","size":19,"thickness":2.5,"color":"#111"},"encoding":{"x":{"field":"i","type":"quantitative","axis":null},"y":{"field":"m","type":"quantitative","axis":null}}},
{"data":{"name":"out"},"transform":[{"filter":"datum.p=='2-4'"}],"mark":{"type":"point","shape":"circle","filled":false,"size":22,"stroke":"#666","strokeWidth":0.8},"encoding":{"x":{"field":"i","type":"quantitative","axis":null},"y":{"field":"v","type":"quantitative","axis":null}}},
{"data":{"name":"ref"},"transform":[{"filter":"datum.p=='2-4'"}],"mark":{"type":"rule","stroke":"#ff2a2a","strokeDash":[2,2],"strokeWidth":1.3},"encoding":{"y":{"field":"v","type":"quantitative","axis":{"orient":"right","ticks":false,"labels":false,"grid":false,"title":"θ₁ (Range)","titleAngle":90,"titleFont":"Lato","titleFontSize":15,"titleFontWeight":"bold","titleColor":"#111","titleX":17,"titleY":66,"titleAlign":"center","titleBaseline":"middle"}}}}
],"resolve":{"axis":{"x":"independent","y":"independent"}}}
],"spacing":8,"bounds":"flush"},
{"vconcat":[
{"hconcat":[
{"width":136,"height":159,
"layer":[
{"data":{"name":"boxes"},"transform":[{"filter":"datum.p=='3-1'"}],"mark":{"type":"rule","stroke":"#555","strokeDash":[3,2],"strokeWidth":0.9},
"encoding":{"x":{"field":"i","type":"quantitative","scale":{"domain":[0.26,6.74],"nice":false,"zero":false},"axis":{"orient":"bottom","values":[0.5,1,1.5,2,2.5,3,3.5,4,4.5,5,5.5,6,6.5],"grid":true,"ticks":false,"labels":false,"zindex":1,"title":null}},
"y":{"field":"lo","type":"quantitative","scale":{"domain":[0.433,0.814],"nice":false,"zero":false},"axis":{"orient":"left","values":[0.45,0.475,0.5,0.525,0.55,0.575,0.6,0.625,0.65,0.675,0.7,0.725,0.75,0.775,0.8],"grid":true,"ticks":false,"labels":false,"zindex":1,"title":null}},"y2":{"field":"hi"}}},
{"data":{"name":"boxes"},"transform":[{"filter":"datum.p=='3-1'"}],"mark":{"type":"bar","size":17.5,"stroke":"#222","strokeWidth":0.7},
"encoding":{"x":{"field":"i","type":"quantitative","axis":{"orient":"bottom","values":[1,2,3,4,5,6],"labels":false,"title":null}},
"y":{"field":"q1","type":"quantitative","axis":{"orient":"left","values":[0.45,0.5,0.55,0.6,0.65,0.7,0.75,0.8],"labelExpr":"round(datum.value*100)%10==5 ? format(datum.value,'.2f') : ''","labelAngle":-90,"labelAlign":"center","labelBaseline":"bottom","labelPadding":6,"title":null}},"y2":{"field":"q3"},
"color":{"field":"g","type":"nominal","scale":{"domain":["100D","30D:70S","10D:90S","10D:50S:40H","10D:30S:60H","10D:10S:80H"],"range":["#2f2fe6","#ee2a2a","#1a5e1a","#33ee33","#c0c0c0","#a033ee"]},"legend":null}}},
{"data":{"name":"boxes"},"transform":[{"filter":"datum.p=='3-1'"}],"mark":{"type":"tick","orient":"horizontal","size":9,"thickness":1,"color":"#333"},"encoding":{"x":{"field":"i","type":"quantitative","axis":null},"y":{"field":"lo","type":"quantitative","axis":null}}},
{"data":{"name":"boxes"},"transform":[{"filter":"datum.p=='3-1'"}],"mark":{"type":"tick","orient":"horizontal","size":9,"thickness":1,"color":"#333"},"encoding":{"x":{"field":"i","type":"quantitative","axis":null},"y":{"field":"hi","type":"quantitative","axis":null}}},
{"data":{"name":"boxes"},"transform":[{"filter":"datum.p=='3-1'"}],"mark":{"type":"tick","orient":"horizontal","size":17.5,"thickness":2.5,"color":"#111"},"encoding":{"x":{"field":"i","type":"quantitative","axis":null},"y":{"field":"m","type":"quantitative","axis":null}}},
{"data":{"name":"out"},"transform":[{"filter":"datum.p=='3-1'"}],"mark":{"type":"point","shape":"circle","filled":false,"size":22,"stroke":"#666","strokeWidth":0.8},"encoding":{"x":{"field":"i","type":"quantitative","axis":null},"y":{"field":"v","type":"quantitative","axis":null}}},
{"data":{"name":"ref"},"transform":[{"filter":"datum.p=='3-1'"}],"mark":{"type":"rule","stroke":"#ff2a2a","strokeDash":[2,2],"strokeWidth":1.3},"encoding":{"y":{"field":"v","type":"quantitative","axis":null}}}
],"resolve":{"axis":{"x":"independent","y":"independent"}}},
{"width":151,"height":159,
"layer":[
{"data":{"name":"boxes"},"transform":[{"filter":"datum.p=='3-2'"}],"mark":{"type":"rule","stroke":"#555","strokeDash":[3,2],"strokeWidth":0.9},
"encoding":{"x":{"field":"i","type":"quantitative","scale":{"domain":[0.26,6.74],"nice":false,"zero":false},"axis":{"orient":"bottom","values":[0.5,1,1.5,2,2.5,3,3.5,4,4.5,5,5.5,6,6.5],"grid":true,"ticks":false,"labels":false,"zindex":1,"title":null}},
"y":{"field":"lo","type":"quantitative","scale":{"domain":[0.433,0.814],"nice":false,"zero":false},"axis":{"orient":"left","values":[0.45,0.475,0.5,0.525,0.55,0.575,0.6,0.625,0.65,0.675,0.7,0.725,0.75,0.775,0.8],"grid":true,"ticks":false,"labels":false,"zindex":1,"title":null}},"y2":{"field":"hi"}}},
{"data":{"name":"boxes"},"transform":[{"filter":"datum.p=='3-2'"}],"mark":{"type":"bar","size":19.5,"stroke":"#222","strokeWidth":0.7},
"encoding":{"x":{"field":"i","type":"quantitative","axis":{"orient":"bottom","values":[1,2,3,4,5,6],"labels":false,"title":null}},
"y":{"field":"q1","type":"quantitative","axis":{"orient":"left","values":[0.45,0.5,0.55,0.6,0.65,0.7,0.75,0.8],"labels":false,"title":null}},"y2":{"field":"q3"},
"color":{"field":"g","type":"nominal","scale":{"domain":["100D","30D:70S","10D:90S","10D:50S:40H","10D:30S:60H","10D:10S:80H"],"range":["#2f2fe6","#ee2a2a","#1a5e1a","#33ee33","#c0c0c0","#a033ee"]},"legend":null}}},
{"data":{"name":"boxes"},"transform":[{"filter":"datum.p=='3-2'"}],"mark":{"type":"tick","orient":"horizontal","size":9,"thickness":1,"color":"#333"},"encoding":{"x":{"field":"i","type":"quantitative","axis":null},"y":{"field":"lo","type":"quantitative","axis":null}}},
{"data":{"name":"boxes"},"transform":[{"filter":"datum.p=='3-2'"}],"mark":{"type":"tick","orient":"horizontal","size":9,"thickness":1,"color":"#333"},"encoding":{"x":{"field":"i","type":"quantitative","axis":null},"y":{"field":"hi","type":"quantitative","axis":null}}},
{"data":{"name":"boxes"},"transform":[{"filter":"datum.p=='3-2'"}],"mark":{"type":"tick","orient":"horizontal","size":19.5,"thickness":2.5,"color":"#111"},"encoding":{"x":{"field":"i","type":"quantitative","axis":null},"y":{"field":"m","type":"quantitative","axis":null}}},
{"data":{"name":"ref"},"transform":[{"filter":"datum.p=='3-2'"}],"mark":{"type":"rule","stroke":"#ff2a2a","strokeDash":[2,2],"strokeWidth":1.3},"encoding":{"y":{"field":"v","type":"quantitative","axis":null}}}
],"resolve":{"axis":{"x":"independent","y":"independent"}}},
{"width":153,"height":159,
"layer":[
{"data":{"name":"boxes"},"transform":[{"filter":"datum.p=='3-3'"}],"mark":{"type":"rule","stroke":"#555","strokeDash":[3,2],"strokeWidth":0.9},
"encoding":{"x":{"field":"i","type":"quantitative","scale":{"domain":[0.26,6.74],"nice":false,"zero":false},"axis":{"orient":"bottom","values":[0.5,1,1.5,2,2.5,3,3.5,4,4.5,5,5.5,6,6.5],"grid":true,"ticks":false,"labels":false,"zindex":1,"title":null}},
"y":{"field":"lo","type":"quantitative","scale":{"domain":[0.433,0.814],"nice":false,"zero":false},"axis":{"orient":"left","values":[0.45,0.475,0.5,0.525,0.55,0.575,0.6,0.625,0.65,0.675,0.7,0.725,0.75,0.775,0.8],"grid":true,"ticks":false,"labels":false,"zindex":1,"title":null}},"y2":{"field":"hi"}}},
{"data":{"name":"boxes"},"transform":[{"filter":"datum.p=='3-3'"}],"mark":{"type":"bar","size":19.5,"stroke":"#222","strokeWidth":0.7},
"encoding":{"x":{"field":"i","type":"quantitative","axis":{"orient":"bottom","values":[1,2,3,4,5,6],"labels":false,"title":null}},
"y":{"field":"q1","type":"quantitative","axis":{"orient":"left","values":[0.45,0.5,0.55,0.6,0.65,0.7,0.75,0.8],"labels":false,"title":null}},"y2":{"field":"q3"},
"color":{"field":"g","type":"nominal","scale":{"domain":["100D","30D:70S","10D:90S","10D:50S:40H","10D:30S:60H","10D:10S:80H"],"range":["#2f2fe6","#ee2a2a","#1a5e1a","#33ee33","#c0c0c0","#a033ee"]},"legend":null}}},
{"data":{"name":"boxes"},"transform":[{"filter":"datum.p=='3-3'"}],"mark":{"type":"tick","orient":"horizontal","size":9,"thickness":1,"color":"#333"},"encoding":{"x":{"field":"i","type":"quantitative","axis":null},"y":{"field":"lo","type":"quantitative","axis":null}}},
{"data":{"name":"boxes"},"transform":[{"filter":"datum.p=='3-3'"}],"mark":{"type":"tick","orient":"horizontal","size":9,"thickness":1,"color":"#333"},"encoding":{"x":{"field":"i","type":"quantitative","axis":null},"y":{"field":"hi","type":"quantitative","axis":null}}},
{"data":{"name":"boxes"},"transform":[{"filter":"datum.p=='3-3'"}],"mark":{"type":"tick","orient":"horizontal","size":19.5,"thickness":2.5,"color":"#111"},"encoding":{"x":{"field":"i","type":"quantitative","axis":null},"y":{"field":"m","type":"quantitative","axis":null}}},
{"data":{"name":"out"},"transform":[{"filter":"datum.p=='3-3'"}],"mark":{"type":"point","shape":"circle","filled":false,"size":22,"stroke":"#666","strokeWidth":0.8},"encoding":{"x":{"field":"i","type":"quantitative","axis":null},"y":{"field":"v","type":"quantitative","axis":null}}},
{"data":{"name":"ref"},"transform":[{"filter":"datum.p=='3-3'"}],"mark":{"type":"rule","stroke":"#ff2a2a","strokeDash":[2,2],"strokeWidth":1.3},"encoding":{"y":{"field":"v","type":"quantitative","axis":null}}}
],"resolve":{"axis":{"x":"independent","y":"independent"}}},
{"width":150,"height":159,
"layer":[
{"data":{"name":"boxes"},"transform":[{"filter":"datum.p=='3-4'"}],"mark":{"type":"rule","stroke":"#555","strokeDash":[3,2],"strokeWidth":0.9},
"encoding":{"x":{"field":"i","type":"quantitative","scale":{"domain":[0.26,6.74],"nice":false,"zero":false},"axis":{"orient":"bottom","values":[0.5,1,1.5,2,2.5,3,3.5,4,4.5,5,5.5,6,6.5],"grid":true,"ticks":false,"labels":false,"zindex":1,"title":null}},
"y":{"field":"lo","type":"quantitative","scale":{"domain":[0.443,0.708],"nice":false,"zero":false},"axis":{"orient":"left","values":[0.45,0.475,0.5,0.525,0.55,0.575,0.6,0.625,0.65,0.675,0.7],"grid":true,"ticks":false,"labels":false,"zindex":1,"title":null}},"y2":{"field":"hi"}}},
{"data":{"name":"boxes"},"transform":[{"filter":"datum.p=='3-4'"}],"mark":{"type":"bar","size":19,"stroke":"#222","strokeWidth":0.7},
"encoding":{"x":{"field":"i","type":"quantitative","axis":{"orient":"bottom","values":[1,2,3,4,5,6],"labels":false,"title":null}},
"y":{"field":"q1","type":"quantitative","axis":{"orient":"left","values":[0.45,0.5,0.55,0.6,0.65,0.7],"labels":false,"title":null}},"y2":{"field":"q3"},
"color":{"field":"g","type":"nominal","scale":{"domain":["100D","30D:70S","10D:90S","10D:50S:40H","10D:30S:60H","10D:10S:80H"],"range":["#2f2fe6","#ee2a2a","#1a5e1a","#33ee33","#c0c0c0","#a033ee"]},"legend":null}}},
{"data":{"name":"boxes"},"transform":[{"filter":"datum.p=='3-4'"}],"mark":{"type":"tick","orient":"horizontal","size":9,"thickness":1,"color":"#333"},"encoding":{"x":{"field":"i","type":"quantitative","axis":null},"y":{"field":"lo","type":"quantitative","axis":null}}},
{"data":{"name":"boxes"},"transform":[{"filter":"datum.p=='3-4'"}],"mark":{"type":"tick","orient":"horizontal","size":9,"thickness":1,"color":"#333"},"encoding":{"x":{"field":"i","type":"quantitative","axis":null},"y":{"field":"hi","type":"quantitative","axis":null}}},
{"data":{"name":"boxes"},"transform":[{"filter":"datum.p=='3-4'"}],"mark":{"type":"tick","orient":"horizontal","size":19,"thickness":2.5,"color":"#111"},"encoding":{"x":{"field":"i","type":"quantitative","axis":null},"y":{"field":"m","type":"quantitative","axis":null}}},
{"data":{"name":"out"},"transform":[{"filter":"datum.p=='3-4'"}],"mark":{"type":"point","shape":"circle","filled":false,"size":22,"stroke":"#666","strokeWidth":0.8},"encoding":{"x":{"field":"i","type":"quantitative","axis":null},"y":{"field":"v","type":"quantitative","axis":null}}},
{"data":{"name":"ref"},"transform":[{"filter":"datum.p=='3-4'"}],"mark":{"type":"rule","stroke":"#ff2a2a","strokeDash":[2,2],"strokeWidth":1.3},"encoding":{"y":{"field":"v","type":"quantitative","axis":{"orient":"right","ticks":false,"labels":false,"grid":false,"title":"θ₂ (Smoothness)","titleAngle":90,"titleFont":"Lato","titleFontSize":15,"titleFontWeight":"bold","titleColor":"#111","titleX":17,"titleY":69,"titleAlign":"center","titleBaseline":"middle"}}}}
],"resolve":{"axis":{"x":"independent","y":"independent"}}}
],"spacing":8,"bounds":"flush"},
{"hconcat":[
{"width":1,"height":29,"data":{"values":[{"a":1}]},"mark":{"type":"text"},"encoding":{"text":{"value":""}},"view":{"stroke":null}},
{"width":611,"height":29,"data":{"name":"groups"},"view":{"stroke":"#333","strokeWidth":1.2},
"layer":[
{"mark":{"type":"point","shape":"square","filled":true,"size":64,"stroke":"#111","strokeWidth":0.7,"opacity":1},
"encoding":{"x":{"field":"k","type":"quantitative","scale":{"domain":[-0.16,5.94],"nice":false,"zero":false},"axis":null},
"color":{"field":"g","type":"nominal","scale":{"domain":["100D","30D:70S","10D:90S","10D:50S:40H","10D:30S:60H","10D:10S:80H"],"range":["#2f2fe6","#ee2a2a","#1a5e1a","#33ee33","#c0c0c0","#a033ee"]},"legend":null}}},
{"mark":{"type":"text","align":"left","baseline":"middle","dx":14,"fontSize":11.5,"color":"#333","font":"Liberation Sans"},
"encoding":{"x":{"field":"k","type":"quantitative","axis":null},"text":{"field":"g"}}}
]}
],"spacing":4,"bounds":"flush"}
],"spacing":7,"bounds":"full"}
],"spacing":4,"bounds":"full"}
]
}
